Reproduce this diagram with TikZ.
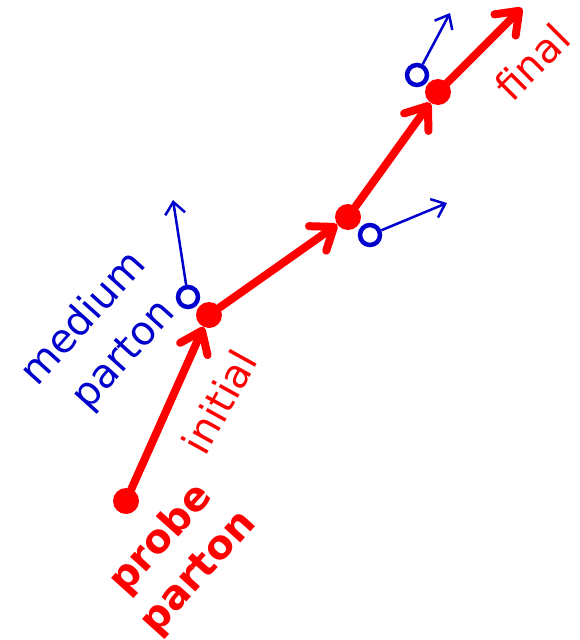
\documentclass[tikz,border=0pt]{standalone}
\usepackage{fontspec}
\setmainfont{DejaVu Sans}
\usetikzlibrary{arrows.meta}
\definecolor{pred}{RGB}{255,0,0}
\definecolor{pblue}{RGB}{0,0,204}
\begin{document}
\begin{tikzpicture}[x=1pt,y=-1pt,
  reddot/.style={circle,fill=pred,minimum size=26pt,inner sep=0pt},
  bluering/.style={circle,draw=pblue,line width=4.5pt,minimum size=20pt,inner sep=0pt},
  redarrow/.style={draw=pred,line width=8pt,line cap=round,-{Straight Barb[length=20pt,width=30pt,line cap=round,line join=round]}},
  bluearrow/.style={draw=pblue,line width=2.5pt,-{Straight Barb[length=12pt,width=20pt]}},
  lbl/.style={font=\fontsize{40}{54}\selectfont,align=center,inner sep=0pt}]
\useasboundingbox (0,0) rectangle (579,640);
% red dots
\node[reddot] (d1) at (126,501) {};
\node[reddot] (d2) at (209,315) {};
\node[reddot] (d3) at (348,217) {};
\node[reddot] (d4) at (438,92) {};
\coordinate (rend) at (522,8);
% blue rings
\node[bluering] (b1) at (188,297) {};
\node[bluering] (b2) at (370,235) {};
\node[bluering] (b3) at (417,75) {};
\coordinate (t1) at (173,200);
\coordinate (t2) at (447,203);
\coordinate (t3) at (450,13);
% red arrows
\draw[redarrow] (d1) -- (d2);
\draw[redarrow] (d2) -- (d3);
\draw[redarrow] (d3) -- (d4);
\draw[redarrow] (d4) -- (rend);
% blue arrows
\draw[bluearrow] (b1) -- (t1);
\draw[bluearrow] (b2) -- (t2);
\draw[bluearrow] (b3) -- (t3);
% labels
\node[lbl,text=pblue,rotate=48] (med) at (104,337) {medium\\parton};
\node[lbl,text=pred,rotate=61] (ini) at (219,402) {initial};
\node[lbl,text=pred,rotate=45] (fin) at (532,62) {final};
\node[lbl,text=pred,rotate=48,font=\fontsize{40}{50}\selectfont\bfseries] (prb) at (180,556) {probe\\parton};
\end{tikzpicture}
\end{document}
